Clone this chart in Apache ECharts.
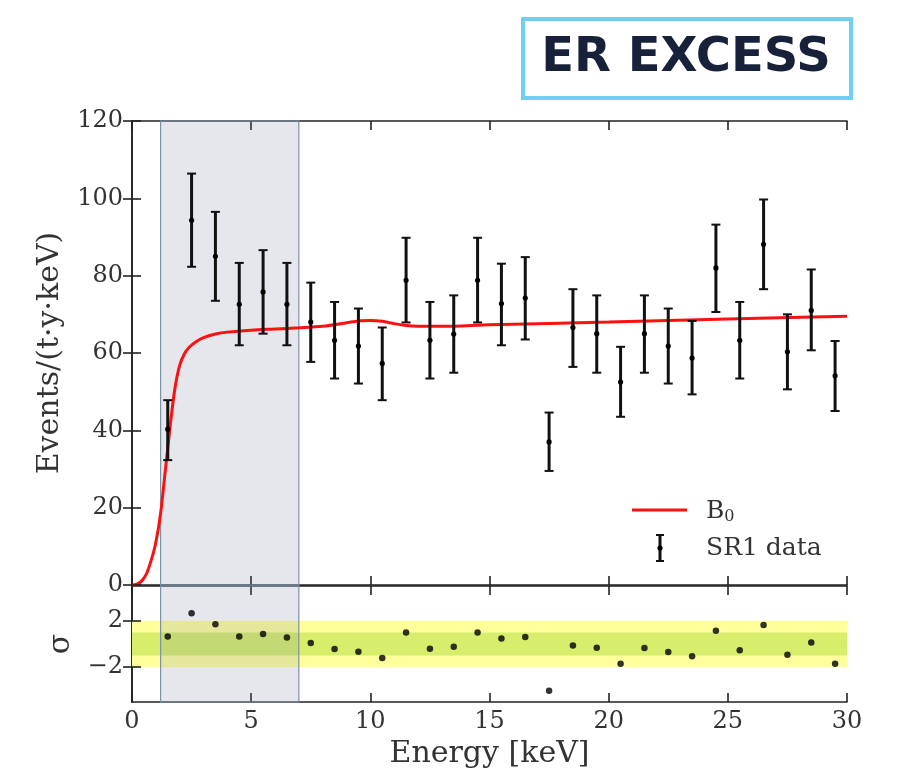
<!DOCTYPE html>
<html>
<head>
<meta charset="UTF-8">
<title>ER excess</title>
<script src="https://cdn.jsdelivr.net/npm/echarts@6/dist/echarts.min.js"></script>
<style>
html, body { margin: 0; padding: 0; background: #fff; }
#chart { width: 897px; height: 780px; }
</style>
</head>
<body>
<div id="chart"></div>
<script>
// bin centres (keV)
var energy = [1.5, 2.5, 3.5, 4.5, 5.5, 6.5, 7.5, 8.5, 9.5, 10.5, 11.5, 12.5, 13.5, 14.5, 15.5,
              16.5, 17.5, 18.5, 19.5, 20.5, 21.5, 22.5, 23.5, 24.5, 25.5, 26.5, 27.5, 28.5, 29.5];
// SR1 data, events/(t·y·keV)
var events = [40.3, 94.3, 85, 72.6, 75.8, 72.6, 68, 63.3, 61.8, 57.3, 78.8, 63.3, 64.9, 78.8, 72.8,
              74.2, 37, 66.6, 65, 52.5, 65, 61.8, 58.7, 82, 63.3, 88.1, 60.3, 71, 54.1];
var errHigh = [47.8, 106.4, 96.5, 83.3, 86.6, 83.3, 78.2, 73.2, 71.5, 66.6, 89.8, 73.2, 74.9, 89.8, 83.1,
               84.8, 44.6, 76.5, 74.9, 61.6, 74.9, 71.5, 68.3, 93.2, 73.2, 99.7, 70, 81.6, 63.1];
var errLow = [32.3, 82.3, 73.5, 62, 65, 62, 57.7, 53.4, 52.1, 47.8, 67.9, 53.4, 54.9, 67.9, 62,
              63.5, 29.5, 56.4, 54.9, 43.5, 54.9, 52.1, 49.3, 70.6, 53.4, 76.5, 50.6, 60.7, 45];
// residuals in sigma
var residual = [0.65, 2.65, 1.71, 0.65, 0.86, 0.57, 0.09, -0.43, -0.66, -1.2, 1.0, -0.4, -0.23, 1.0, 0.48,
                0.6, -4.03, -0.14, -0.32, -1.71, -0.34, -0.69, -1.06, 1.14, -0.54, 1.63, -0.92, 0.14, -1.71];
// background model B0
var curveE = [0, 0.2, 0.4, 0.6, 0.8, 1.0, 1.2, 1.4, 1.6, 1.8, 2.0, 2.2, 2.4, 2.7, 3.0, 3.5, 4, 5, 6, 7, 8, 9,
              9.5, 10, 10.5, 11, 11.5, 12, 13, 15, 20, 25, 30];
var curveB0 = [0, 0.2, 1.0, 2.8, 6.3, 11, 18.5, 29.7, 41, 50.8, 56.8, 59.8, 61.5, 63, 64, 64.9, 65.4, 65.9, 66.2,
               66.5, 66.9, 67.8, 68.3, 68.4, 68.2, 67.6, 67.1, 66.9, 66.9, 67.3, 68, 68.8, 69.5];
var yTicks = [0, 20, 40, 60, 80, 100, 120];
var sigmaTicks = [-2, 2];
var roi = [1.2, 7];

var serif = 'DejaVu Serif';
var axisColor = '#222';
var tickLenKeV = 0.38; // ~9 px

var errData = [], resData = [], curveData = [];
for (var i = 0; i < energy.length; i++) {
	errData.push([energy[i], events[i], errLow[i], errHigh[i]]);
	resData.push([energy[i], residual[i]]);
}
for (var j = 0; j < curveE.length; j++) {
	curveData.push([curveE[j], curveB0[j]]);
}

// inner ticks on the left frame
function leftTickLines(vals) {
	var out = [];
	for (var k = 0; k < vals.length; k++) {
		out.push([{xAxis: 0, yAxis: vals[k]}, {xAxis: tickLenKeV, yAxis: vals[k]}]);
	}
	return out;
}

function renderErr(params, api) {
	var x = api.value(0);
	var p = api.coord([x, api.value(1)]);
	var pl = api.coord([x, api.value(2)]);
	var ph = api.coord([x, api.value(3)]);
	var c = '#111', w = 4.5;
	return {
		type: 'group',
		children: [
			{type: 'line', shape: {x1: p[0], y1: ph[1], x2: p[0], y2: pl[1]}, style: {stroke: c, lineWidth: 3}},
			{type: 'line', shape: {x1: p[0] - w, y1: ph[1], x2: p[0] + w, y2: ph[1]}, style: {stroke: c, lineWidth: 2}},
			{type: 'line', shape: {x1: p[0] - w, y1: pl[1], x2: p[0] + w, y2: pl[1]}, style: {stroke: c, lineWidth: 2}},
			{type: 'circle', shape: {cx: p[0], cy: p[1], r: 2.6}, style: {fill: '#000'}}
		]
	};
}

var tickStyle = {color: axisColor, width: 1.6};

function xAxisBase(grid, pos, showLabel) {
	return {
		type: 'value', gridIndex: grid, position: pos, min: 0, max: 30, interval: 5,
		axisLine: {show: true, onZero: false, lineStyle: tickStyle},
		axisTick: {show: true, inside: true, length: 9, lineStyle: tickStyle},
		axisLabel: {show: showLabel, color: '#333', fontFamily: serif, fontSize: 24, margin: 8},
		splitLine: {show: false}
	};
}

function rightAxis(grid, min, max, interval, custom) {
	var t = {show: true, inside: true, length: 9, lineStyle: tickStyle};
	if (custom) t.customValues = custom;
	return {
		type: 'value', gridIndex: grid, position: 'right', min: min, max: max, interval: interval,
		axisLine: {show: true, lineStyle: tickStyle}, axisTick: t,
		axisLabel: {show: false}, splitLine: {show: false}
	};
}

var tickMark = {
	silent: true, symbol: 'none', label: {show: false},
	lineStyle: {color: axisColor, width: 1.6, type: 'solid'}
};

var option = {
	backgroundColor: '#fff',
	animation: false,
	grid: [
		{left: 132, top: 121, width: 715, height: 464},
		{left: 132, top: 586, width: 715, height: 116}
	],
	xAxis: [
		xAxisBase(0, 'bottom', false),
		xAxisBase(0, 'top', false),
		Object.assign(xAxisBase(1, 'bottom', true), {
			name: 'Energy [keV]', nameLocation: 'middle', nameGap: 37,
			nameTextStyle: {fontFamily: serif, fontSize: 30, color: '#333'}
		}),
		xAxisBase(1, 'top', false)
	],
	yAxis: [
		{
			type: 'value', gridIndex: 0, min: 0, max: 120, interval: 20,
			name: 'Events/(t\u00b7y\u00b7keV)', nameLocation: 'middle', nameGap: 67,
			nameTextStyle: {fontFamily: serif, fontSize: 30, color: '#333'},
			axisLine: {show: true, lineStyle: tickStyle},
			axisTick: {show: false},
			axisLabel: {color: '#333', fontFamily: serif, fontSize: 24, margin: 9},
			splitLine: {show: false}
		},
		rightAxis(0, 0, 120, 20),
		{
			type: 'value', gridIndex: 1, min: -5, max: 5, interval: 1,
			name: '\u03c3', nameLocation: 'middle', nameGap: 56,
			nameTextStyle: {fontFamily: serif, fontSize: 30, color: '#333'},
			axisLine: {show: true, lineStyle: tickStyle},
			axisTick: {show: false},
			axisLabel: {color: '#333', fontFamily: serif, fontSize: 24, margin: 9, customValues: sigmaTicks,
				formatter: function (v) { return v < 0 ? '\u2212' + Math.abs(v) : String(v); }},
			splitLine: {show: false}
		},
		rightAxis(1, -5, 5, 1, sigmaTicks)
	],
	series: [
		{
			// shaded region + inner left ticks, top panel
			type: 'line', xAxisIndex: 0, yAxisIndex: 0, data: [], silent: true,
			markArea: {
				silent: true,
				itemStyle: {color: 'rgba(110,120,150,0.18)', borderColor: '#7d93a6', borderWidth: 1.2},
				data: [[{xAxis: roi[0], yAxis: 0}, {xAxis: roi[1], yAxis: 120}]]
			},
			markLine: Object.assign({data: leftTickLines(yTicks)}, tickMark)
		},
		{
			name: 'B0', type: 'line', xAxisIndex: 0, yAxisIndex: 0, data: curveData,
			smooth: 0.3, showSymbol: false, z: 3,
			lineStyle: {color: '#ff1010', width: 3}
		},
		{
			name: 'SR1 data', type: 'custom', xAxisIndex: 0, yAxisIndex: 0, data: errData,
			renderItem: renderErr, z: 4
		},
		{
			// sigma bands
			type: 'line', xAxisIndex: 2, yAxisIndex: 2, data: [], silent: true, z: 1,
			markArea: {
				silent: true,
				data: [
					[{xAxis: 0, yAxis: -2, itemStyle: {color: '#ffff9c'}}, {xAxis: 30, yAxis: 2}],
					[{xAxis: 0, yAxis: -1, itemStyle: {color: '#d6ee6c'}}, {xAxis: 30, yAxis: 1}]
				]
			}
		},
		{
			// shaded region + inner left ticks, lower panel
			type: 'line', xAxisIndex: 2, yAxisIndex: 2, data: [], silent: true, z: 2,
			markArea: {
				silent: true,
				itemStyle: {color: 'rgba(110,120,150,0.18)', borderColor: '#7d93a6', borderWidth: 1.2},
				data: [[{xAxis: roi[0], yAxis: -5}, {xAxis: roi[1], yAxis: 5}]]
			},
			markLine: Object.assign({data: leftTickLines(sigmaTicks)}, tickMark)
		},
		{
			name: 'residual', type: 'scatter', xAxisIndex: 2, yAxisIndex: 2, data: resData,
			symbolSize: 6.5, itemStyle: {color: '#000'}, z: 5
		}
	],
	graphic: [
		// title box
		{type: 'rect', left: 521, top: 17, shape: {width: 328, height: 79},
			style: {fill: '#fff', stroke: '#72cff4', lineWidth: 4}},
		{type: 'text', x: 686, y: 59,
			style: {text: 'ER EXCESS', fill: '#17213a', font: 'bold 48px "DejaVu Sans"',
				align: 'center', verticalAlign: 'middle'}},
		// legend
		{type: 'line', shape: {x1: 632, y1: 510, x2: 687, y2: 510}, style: {stroke: '#ff1010', lineWidth: 3}},
		{type: 'text', x: 706, y: 511,
			style: {text: '{b|B}{s|0}', verticalAlign: 'middle', fill: '#333',
				rich: {b: {fontFamily: serif, fontSize: 25, fill: '#333'},
					s: {fontFamily: serif, fontSize: 16, fill: '#333', padding: [12, 0, 0, 0]}}}},
		{type: 'line', shape: {x1: 660, y1: 535, x2: 660, y2: 561}, style: {stroke: '#111', lineWidth: 3}},
		{type: 'line', shape: {x1: 656, y1: 535, x2: 664, y2: 535}, style: {stroke: '#111', lineWidth: 2}},
		{type: 'line', shape: {x1: 656, y1: 561, x2: 664, y2: 561}, style: {stroke: '#111', lineWidth: 2}},
		{type: 'circle', shape: {cx: 660, cy: 548, r: 2.6}, style: {fill: '#000'}},
		{type: 'text', x: 706, y: 548,
			style: {text: 'SR1 data', verticalAlign: 'middle', fill: '#333', font: '25px "DejaVu Serif"'}}
	]
};

var myChart = echarts.init(document.getElementById('chart'), null, {renderer: 'canvas'});
myChart.setOption(option);
</script>
</body>
</html>
